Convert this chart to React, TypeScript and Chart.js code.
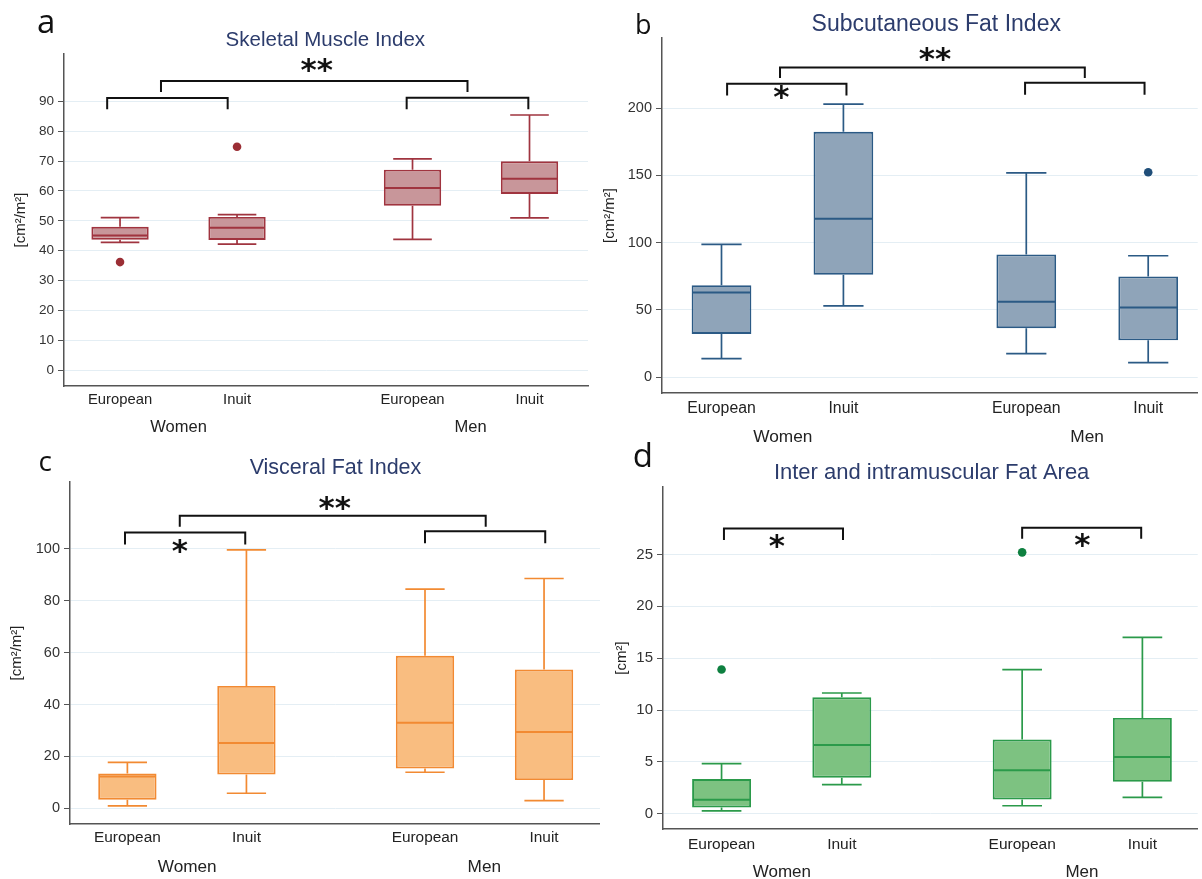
import React, { useEffect, useRef } from 'react';
import { Chart, registerables } from 'chart.js';

Chart.register(...registerables);

// ---------- shared categories ----------
const CATEGORIES = ['European', 'Inuit', 'European', 'Inuit'];
const CATEGORY_POS = [0, 1, 2.5, 3.5];
const GROUPS = ['Women', 'Men'];
const GROUP_POS = [0.5, 3.0];

// ---------- a: Skeletal Muscle Index ----------
const SMI_LOW = [42.8, 42.2, 43.8, 51.0];
const SMI_Q1 = [43.7, 43.6, 55.0, 59.0];
const SMI_MEDIAN = [45.1, 47.7, 61.0, 64.1];
const SMI_Q3 = [48.0, 51.3, 67.1, 69.9];
const SMI_HIGH = [51.1, 52.1, 70.7, 85.4];
const SMI_OUTLIER_X = [0, 1];
const SMI_OUTLIER_Y = [36.2, 74.8];
const SMI_TICKS = [0, 10, 20, 30, 40, 50, 60, 70, 80, 90];
const SMI_BRACKETS = [
  [-0.11, 0.92, 91.1, 87.3],
  [2.45, 3.49, 91.2, 87.3],
  [0.35, 2.97, 96.8, 93.1],
];
const SMI_STAR_X = [1.68];
const SMI_STAR_Y = [101.8];
const SMI_STARS = ['**'];

// ---------- b: Subcutaneous Fat Index ----------
const SFI_LOW = [13.7, 52.9, 17.4, 10.7];
const SFI_Q1 = [32.0, 76.0, 36.3, 27.3];
const SFI_MEDIAN = [62.9, 117.8, 55.9, 51.7];
const SFI_Q3 = [68.3, 182.4, 91.2, 74.8];
const SFI_HIGH = [98.6, 203.0, 151.8, 90.2];
const SFI_OUTLIER_X = [3.5];
const SFI_OUTLIER_Y = [152.3];
const SFI_TICKS = [0, 50, 100, 150, 200];
const SFI_BRACKETS = [
  [0.046, 1.025, 218.1, 209.4],
  [2.49, 3.47, 218.9, 210.0],
  [0.48, 2.98, 230.3, 222.4],
];
const SFI_STAR_X = [1.75, 0.49];
const SFI_STAR_Y = [240.2, 211.6];
const SFI_STARS = ['**', '*'];

// ---------- c: Visceral Fat Index ----------
const VFI_LOW = [0.9, 5.8, 13.9, 3.0];
const VFI_Q1 = [3.3, 13.0, 15.3, 10.9];
const VFI_MEDIAN = [12.3, 25.2, 33.0, 29.4];
const VFI_Q3 = [13.4, 47.2, 58.8, 53.5];
const VFI_HIGH = [17.7, 99.6, 84.5, 88.6];
const VFI_OUTLIER_X: number[] = [];
const VFI_OUTLIER_Y: number[] = [];
const VFI_TICKS = [0, 20, 40, 60, 80, 100];
const VFI_BRACKETS = [
  [-0.02, 0.99, 106.3, 101.7],
  [2.5, 3.51, 106.8, 102.2],
  [0.44, 3.01, 112.8, 108.5],
];
const VFI_STAR_X = [1.74, 0.44];
const VFI_STAR_Y = [117.7, 100.8];
const VFI_STARS = ['**', '*'];

// ---------- d: Inter and intramuscular Fat Area ----------
const IMF_LOW = [0.27, 2.8, 0.77, 1.57];
const IMF_Q1 = [0.61, 3.48, 1.38, 3.08];
const IMF_MEDIAN = [1.36, 6.63, 4.2, 5.46];
const IMF_Q3 = [3.35, 11.22, 7.16, 9.24];
const IMF_HIGH = [4.84, 11.64, 13.9, 17.0];
const IMF_OUTLIER_X = [0, 2.5];
const IMF_OUTLIER_Y = [13.9, 25.2];
const IMF_TICKS = [0, 5, 10, 15, 20, 25];
const IMF_BRACKETS = [
  [0.02, 1.01, 27.5, 26.4],
  [2.5, 3.49, 27.57, 26.5],
];
const IMF_STAR_X = [0.46, 3.0];
const IMF_STAR_Y = [26.2, 26.3];
const IMF_STARS = ['*', '*'];

const BOX_WIDTH = 0.49;
const CAP_WIDTH = 0.33;
const SANS = '"Liberation Sans", Arial, sans-serif';
const LETTER_FONT = '"Open Sans", "Noto Sans", sans-serif';
const STAR_FONT = '"DejaVu Sans", sans-serif';

type PanelSpec = {
  left: number; top: number; width: number; height: number;
  axisX: number; plotRight: number; plotTop: number; plotBottom: number;
  xMin: number; xMax: number; yMin: number; yMax: number;
  yTicks: number[];
  low: number[]; q1: number[]; median: number[]; q3: number[]; high: number[];
  outX: number[]; outY: number[];
  brackets: number[][]; starX: number[]; starY: number[]; stars: string[];
  fill: string; stroke: string; dot: string;
  letter: string; letterX: number; letterY: number; letterSize: number;
  title: string; titleX: number; titleY: number; titleSize: number;
  yTitle: string; yTitleX: number;
  yTickSize: number; xTickSize: number; xTickPad: number;
  groupSize: number; groupY: number;
};

const PANELS: PanelSpec[] = [
  {
    left: 0, top: 0, width: 600, height: 440,
    axisX: 64, plotRight: 588, plotTop: 54, plotBottom: 386,
    xMin: -0.479, xMax: 4.0, yMin: -5.25, yMax: 105.8,
    yTicks: SMI_TICKS,
    low: SMI_LOW, q1: SMI_Q1, median: SMI_MEDIAN, q3: SMI_Q3, high: SMI_HIGH,
    outX: SMI_OUTLIER_X, outY: SMI_OUTLIER_Y,
    brackets: SMI_BRACKETS, starX: SMI_STAR_X, starY: SMI_STAR_Y, stars: SMI_STARS,
    fill: '#c8969a', stroke: '#a0343f', dot: '#9b2e35',
    letter: 'a', letterX: 45.4, letterY: 24.2, letterSize: 33,
    title: 'Skeletal Muscle Index', titleX: 325.7, titleY: 38.8, titleSize: 20.5,
    yTitle: '[cm²/m²]', yTitleX: 21,
    yTickSize: 13.5, xTickSize: 14.8, xTickPad: 5,
    groupSize: 16.5, groupY: 426,
  },
  {
    left: 600, top: 0, width: 602, height: 452,
    axisX: 62, plotRight: 602, plotTop: 38, plotBottom: 393,
    xMin: -0.488, xMax: 3.906, yMin: -11.9, yMax: 252.2,
    yTicks: SFI_TICKS,
    low: SFI_LOW, q1: SFI_Q1, median: SFI_MEDIAN, q3: SFI_Q3, high: SFI_HIGH,
    outX: SFI_OUTLIER_X, outY: SFI_OUTLIER_Y,
    brackets: SFI_BRACKETS, starX: SFI_STAR_X, starY: SFI_STAR_Y, stars: SFI_STARS,
    fill: '#8fa4b9', stroke: '#2b5a85', dot: '#1f4e79',
    letter: 'b', letterX: 44, letterY: 23, letterSize: 27,
    title: 'Subcutaneous Fat Index', titleX: 337, titleY: 22.3, titleSize: 23,
    yTitle: '[cm²/m²]', yTitleX: 10,
    yTickSize: 14.5, xTickSize: 15.8, xTickPad: 6,
    groupSize: 17.3, groupY: 436,
  },
  {
    left: 0, top: 440, width: 600, height: 439,
    axisX: 70, plotRight: 600, plotTop: 42, plotBottom: 384,
    xMin: -0.482, xMax: 3.97, yMin: -6.05, yMax: 125.8,
    yTicks: VFI_TICKS,
    low: VFI_LOW, q1: VFI_Q1, median: VFI_MEDIAN, q3: VFI_Q3, high: VFI_HIGH,
    outX: VFI_OUTLIER_X, outY: VFI_OUTLIER_Y,
    brackets: VFI_BRACKETS, starX: VFI_STAR_X, starY: VFI_STAR_Y, stars: VFI_STARS,
    fill: '#f9bd80', stroke: '#f28a32', dot: '#f28a32',
    letter: 'c', letterX: 45.5, letterY: 23.8, letterSize: 28,
    title: 'Visceral Fat Index', titleX: 335.6, titleY: 25.8, titleSize: 21.5,
    yTitle: '[cm²/m²]', yTitleX: 17,
    yTickSize: 14.5, xTickSize: 15.4, xTickPad: 5,
    groupSize: 17.2, groupY: 425.7,
  },
  {
    left: 600, top: 440, width: 602, height: 439,
    axisX: 63, plotRight: 602, plotTop: 47, plotBottom: 389,
    xMin: -0.487, xMax: 3.96, yMin: -1.47, yMax: 31.5,
    yTicks: IMF_TICKS,
    low: IMF_LOW, q1: IMF_Q1, median: IMF_MEDIAN, q3: IMF_Q3, high: IMF_HIGH,
    outX: IMF_OUTLIER_X, outY: IMF_OUTLIER_Y,
    brackets: IMF_BRACKETS, starX: IMF_STAR_X, starY: IMF_STAR_Y, stars: IMF_STARS,
    fill: '#7dc281', stroke: '#2b9a4a', dot: '#0e8040',
    letter: 'd', letterX: 42.2, letterY: 14.2, letterSize: 33,
    title: 'Inter and intramuscular Fat Area', titleX: 333, titleY: 31.3, titleSize: 22,
    yTitle: '[cm²]', yTitleX: 22,
    yTickSize: 15, xTickSize: 15.5, xTickPad: 6,
    groupSize: 17, groupY: 431,
  },
];

function drawInkCentered(ctx: CanvasRenderingContext2D, text: string, x: number, y: number) {
  ctx.textAlign = 'left';
  ctx.textBaseline = 'alphabetic';
  const m = ctx.measureText(text);
  const x0 = x - (m.actualBoundingBoxRight - m.actualBoundingBoxLeft) / 2;
  const y0 = y + (m.actualBoundingBoxAscent - m.actualBoundingBoxDescent) / 2;
  ctx.fillText(text, x0, y0);
}

function makePlugin(p: PanelSpec) {
  return {
    id: 'boxExtras',
    afterDatasetsDraw(chart: any) {
      const ctx: CanvasRenderingContext2D = chart.ctx;
      const xs = chart.scales.x;
      const ys = chart.scales.y;
      const bars = chart.getDatasetMeta(0).data;
      ctx.save();
      ctx.strokeStyle = p.stroke;
      ctx.lineCap = 'butt';
      CATEGORY_POS.forEach((pos, i) => {
        const cx = xs.getPixelForValue(pos);
        const capL = xs.getPixelForValue(pos - CAP_WIDTH / 2);
        const capR = xs.getPixelForValue(pos + CAP_WIDTH / 2);
        const yHi = ys.getPixelForValue(p.high[i]);
        const yQ3 = ys.getPixelForValue(p.q3[i]);
        const yQ1 = ys.getPixelForValue(p.q1[i]);
        const yLo = ys.getPixelForValue(p.low[i]);
        ctx.lineWidth = 1.7;
        ctx.beginPath();
        ctx.moveTo(cx, yQ3);
        ctx.lineTo(cx, yHi);
        ctx.moveTo(capL, yHi);
        ctx.lineTo(capR, yHi);
        ctx.moveTo(cx, yQ1);
        ctx.lineTo(cx, yLo);
        ctx.moveTo(capL, yLo);
        ctx.lineTo(capR, yLo);
        ctx.stroke();
        const bar = bars[i];
        const half = bar.width / 2;
        const ym = ys.getPixelForValue(p.median[i]);
        ctx.lineWidth = 2;
        ctx.beginPath();
        ctx.moveTo(bar.x - half + 1, ym);
        ctx.lineTo(bar.x + half - 1, ym);
        ctx.stroke();
      });
      ctx.restore();
    },
    afterDraw(chart: any) {
      const ctx: CanvasRenderingContext2D = chart.ctx;
      const xs = chart.scales.x;
      const ys = chart.scales.y;
      ctx.save();
      // panel letter
      ctx.fillStyle = '#111';
      ctx.font = `${p.letterSize}px ${LETTER_FONT}`;
      drawInkCentered(ctx, p.letter, p.letterX, p.letterY);
      // title
      ctx.fillStyle = '#2c3c6c';
      ctx.font = `${p.titleSize}px ${SANS}`;
      drawInkCentered(ctx, p.title, p.titleX, p.titleY);
      // group labels
      ctx.fillStyle = '#222';
      ctx.font = `${p.groupSize}px ${SANS}`;
      GROUPS.forEach((g, i) => {
        drawInkCentered(ctx, g, xs.getPixelForValue(GROUP_POS[i]), p.groupY);
      });
      // significance brackets
      ctx.strokeStyle = '#111';
      ctx.lineWidth = 2;
      ctx.lineJoin = 'miter';
      p.brackets.forEach((b) => {
        const x1 = xs.getPixelForValue(b[0]);
        const x2 = xs.getPixelForValue(b[1]);
        const yt = ys.getPixelForValue(b[2]);
        const ye = ys.getPixelForValue(b[3]);
        ctx.beginPath();
        ctx.moveTo(x1, ye);
        ctx.lineTo(x1, yt);
        ctx.lineTo(x2, yt);
        ctx.lineTo(x2, ye);
        ctx.stroke();
      });
      // stars
      ctx.fillStyle = '#111';
      ctx.font = `bold 31px ${STAR_FONT}`;
      p.stars.forEach((s, i) => {
        drawInkCentered(ctx, s, xs.getPixelForValue(p.starX[i]), ys.getPixelForValue(p.starY[i]));
      });
      ctx.restore();
    },
  };
}

function Panel({ p }: { p: PanelSpec }) {
  const ref = useRef<HTMLCanvasElement | null>(null);
  useEffect(() => {
    if (!ref.current) return;
    const chart = new Chart(ref.current, {
      type: 'bar',
      data: {
        datasets: [
          {
            type: 'bar',
            data: CATEGORY_POS.map((x, i) => ({ x, y: [p.q1[i], p.q3[i]] })) as any,
            backgroundColor: p.fill,
            borderColor: p.stroke,
            borderWidth: 1.9,
            borderSkipped: false,
            barPercentage: BOX_WIDTH,
            categoryPercentage: 1,
          } as any,
          {
            type: 'scatter',
            data: p.outX.map((x, i) => ({ x, y: p.outY[i] })),
            backgroundColor: p.dot,
            borderColor: p.dot,
            borderWidth: 0,
            pointRadius: 4.3,
          } as any,
        ],
      },
      options: {
        animation: false,
        responsive: false,
        events: [],
        layout: { padding: { top: p.plotTop, right: p.width - p.plotRight, left: 0, bottom: 0 } },
        plugins: { legend: { display: false }, tooltip: { enabled: false }, title: { display: false } },
        scales: {
          x: {
            type: 'linear',
            min: p.xMin,
            max: p.xMax,
            offset: false,
            afterBuildTicks: (s: any) => {
              s.ticks = CATEGORY_POS.map((v) => ({ value: v }));
            },
            afterFit: (s: any) => {
              s.height = p.height - p.plotBottom;
            },
            grid: { display: false, drawTicks: false, offset: false },
            border: { display: true, color: '#555', width: 1.5 },
            ticks: {
              autoSkip: false,
              maxRotation: 0,
              padding: p.xTickPad,
              color: '#222',
              font: { family: SANS, size: p.xTickSize },
              callback: (_v: any, i: number) => CATEGORIES[i],
            },
          },
          y: {
            type: 'linear',
            min: p.yMin,
            max: p.yMax,
            afterBuildTicks: (s: any) => {
              s.ticks = p.yTicks.map((v) => ({ value: v }));
            },
            afterFit: (s: any) => {
              s.width = p.axisX;
            },
            grid: { color: '#e4eef4', lineWidth: 1, drawTicks: true, tickLength: 6, tickColor: '#555', tickWidth: 1 },
            border: { display: true, color: '#555', width: 1.5 },
            ticks: {
              padding: 4,
              color: '#333',
              font: { family: SANS, size: p.yTickSize },
              callback: (v: any) => String(v),
            },
            title: {
              display: true,
              text: p.yTitle,
              color: '#222',
              font: { family: SANS, size: 15 },
              padding: { top: p.yTitleX - 9, bottom: 0 },
            },
          },
        },
      } as any,
      plugins: [makePlugin(p)],
    });
    return () => chart.destroy();
  }, [p]);
  return (
    <canvas
      ref={ref}
      width={p.width}
      height={p.height}
      style={{ position: 'absolute', left: p.left, top: p.top, width: p.width, height: p.height }}
    />
  );
}

export default function App() {
  return (
    <div
      style={{
        position: 'absolute',
        left: 0,
        top: 0,
        width: 1202,
        height: 879,
        background: '#ffffff',
        overflow: 'hidden',
      }}
    >
      {PANELS.map((p, i) => (
        <Panel key={i} p={p} />
      ))}
    </div>
  );
}
